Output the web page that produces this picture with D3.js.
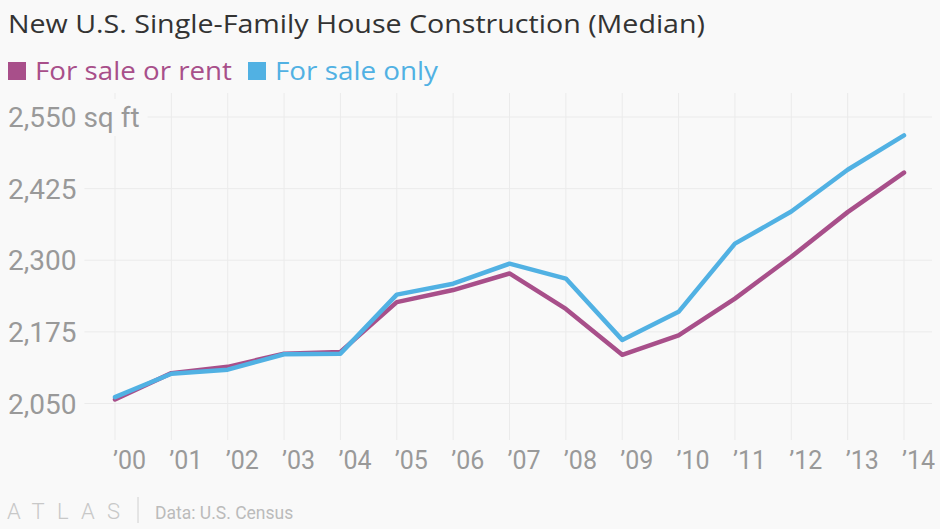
<!DOCTYPE html>
<html>
<head>
<meta charset="utf-8">
<script src="https://cdn.jsdelivr.net/npm/d3@7"></script>
<style>
  body { margin: 0; background: #f9f9f9; }
  svg { display: block; font-family: Roboto, "Open Sans", sans-serif; }
</style>
</head>
<body>
<svg id="chart" width="940" height="529"></svg>
<script>
// years on the x axis
var years = [2000, 2001, 2002, 2003, 2004, 2005, 2006, 2007, 2008, 2009, 2010, 2011, 2012, 2013, 2014];
var yearLabels = ["\u201900", "\u201901", "\u201902", "\u201903", "\u201904", "\u201905", "\u201906", "\u201907",
                  "\u201908", "\u201909", "\u201910", "\u201911", "\u201912", "\u201913", "\u201914"];

// median square feet
var saleOrRent = [2057, 2103, 2114, 2137, 2140, 2227, 2248, 2277, 2215, 2135, 2169, 2233, 2306, 2384, 2453];
var saleOnly   = [2061, 2102, 2109, 2136, 2137, 2240, 2259, 2294, 2268, 2161, 2210, 2329, 2385, 2458, 2518];

var yTicks = [2050, 2175, 2300, 2425, 2550];

var purple = "#a84f8a", blue = "#51b1e3";

var svg = d3.select("#chart");

var x = d3.scaleLinear().domain([2000, 2014]).range([115, 904]);
var y = d3.scaleLinear().domain([2050, 2550]).range([403.5, 117]);

// gridlines first
var grid = svg.append("g");
grid.selectAll("line.h")
  .data(yTicks)
  .enter().append("line")
  .attr("x1", 0).attr("x2", 932)
  .attr("y1", function(d) { return y(d); })
  .attr("y2", function(d) { return y(d); })
  .style("stroke", "#ebebeb");

grid.selectAll("line.v")
  .data(years)
  .enter().append("line")
  .attr("x1", function(d) { return x(d); })
  .attr("x2", function(d) { return x(d); })
  .attr("y1", 93).attr("y2", 440)
  .style("stroke", "#ebebeb");

// lines
var line = d3.line()
  .x(function(d, i) { return x(years[i]); })
  .y(function(d) { return y(d); });

[[saleOrRent, purple], [saleOnly, blue]].forEach(function(s) {
  svg.append("path")
    .datum(s[0])
    .attr("d", line)
    .style("fill", "none")
    .style("stroke", s[1])
    .style("stroke-width", 4.5)
    .style("stroke-linejoin", "round")
    .style("stroke-linecap", "round");
});

// y labels, with a background block so gridlines stop short of them
var yLab = svg.append("g").selectAll("g")
  .data(yTicks)
  .enter().append("g");

yLab.append("text")
  .attr("x", 8)
  .attr("y", function(d) { return y(d) + 10; })
  .style("font-size", "28px")
  .style("fill", "#999")
  .text(function(d, i) { return d3.format(",")(d) + (i == yTicks.length - 1 ? " sq ft" : ""); });

yLab.each(function() {
  var t = d3.select(this).select("text"), b = t.node().getBBox();
  d3.select(this).insert("rect", "text")
    .attr("x", 0).attr("y", b.y - 2)
    .attr("width", b.x + b.width + 8).attr("height", b.height + 4)
    .style("fill", "#f9f9f9");
});

// x labels
svg.append("g").selectAll("text")
  .data(years)
  .enter().append("text")
  .attr("x", function(d) { return x(d) - 2; })
  .attr("y", 469)
  .style("font-size", "25px")
  .style("fill", "#999")
  .text(function(d, i) { return yearLabels[i]; });

// title
svg.append("text")
  .attr("x", 8).attr("y", 33)
  .style("font-family", "'Open Sans', sans-serif")
  .style("font-size", "26px")
  .style("fill", "#333")
  .attr("textLength", 697)
  .attr("lengthAdjust", "spacingAndGlyphs")
  .text("New U.S. Single-Family House Construction (Median)");

// legend
var legend = [["For sale or rent", purple, 8, 197], ["For sale only", blue, 248, 163]];
legend.forEach(function(l) {
  svg.append("rect")
    .attr("x", l[2]).attr("y", 62)
    .attr("width", 18).attr("height", 18)
    .style("fill", l[1]);
  svg.append("text")
    .attr("x", l[2] + 27).attr("y", 80)
    .style("font-family", "'Open Sans', sans-serif")
    .style("font-size", "26px")
    .style("fill", l[1])
    .attr("textLength", l[3])
    .attr("lengthAdjust", "spacingAndGlyphs")
    .text(l[0]);
});

// footer
svg.append("text")
  .attr("x", 7).attr("y", 519)
  .style("font-size", "22px")
  .style("font-weight", 300)
  .style("fill", "#c8c8c8")
  .attr("textLength", 113)
  .text("ATLAS");

svg.append("line")
  .attr("x1", 138).attr("x2", 138)
  .attr("y1", 497).attr("y2", 523)
  .style("stroke", "#d0d0d0");

svg.append("text")
  .attr("x", 155).attr("y", 519)
  .style("font-size", "17.5px")
  .style("fill", "#bbb")
  .text("Data: U.S. Census");
</script>
</body>
</html>
